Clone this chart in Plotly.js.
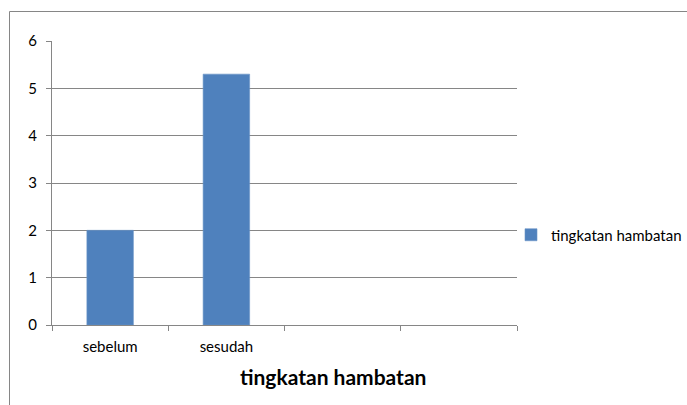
<!DOCTYPE html>
<html>
<head>
<meta charset="utf-8">
<script src="https://cdn.plot.ly/plotly-2.35.2.min.js"></script>
<style>html,body{margin:0;padding:0;background:#fff}#chart{width:687px;height:405px}</style>
</head>
<body>
<div id="chart"></div>
<script>
const categories = ['sebelum', 'sesudah', ' ', '  '];
const values = [2, 5.3, null, null];
const seriesName = 'tingkatan hambatan';
const axisTitle = 'tingkatan hambatan';
const yTicks = [0, 1, 2, 3, 4, 5, 6];

const W = 687, H = 405, L = 52, R = 170, T = 41, B = 80;
const pw = W - L - R, ph = H - T - B;
const px = x => (x - L) / pw;
const py = y => (H - B - y) / ph;

const FONT = 'Lato, "Open Sans", sans-serif';

Plotly.newPlot('chart', [{
  type: 'bar',
  x: categories,
  y: values,
  name: seriesName,
  marker: {color: '#4F81BD', line: {color: '#6A93C8', width: 0.6}},
  showlegend: true
}], {
  width: W, height: H,
  margin: {l: L, r: R, t: T, b: B, pad: 0, autoexpand: false},
  paper_bgcolor: '#fff', plot_bgcolor: '#fff',
  bargap: 0.6,
  font: {family: FONT, size: 15, color: '#000'},
  xaxis: {
    type: 'category',
    range: [-0.5, 3.5],
    showgrid: false,
    showline: true, linecolor: '#868686', linewidth: 1,
    ticks: 'outside', ticklen: 5, tickcolor: '#868686', tickson: 'boundaries',
    ticklabelstandoff: 8,
    tickfont: {family: FONT, size: 15, color: '#000'},
    automargin: false,
    fixedrange: true
  },
  yaxis: {
    range: [0, 6],
    tickvals: yTicks,
    showgrid: true, gridcolor: '#868686', gridwidth: 1,
    showline: true, linecolor: '#868686', linewidth: 1,
    ticks: 'outside', ticklen: 5, tickcolor: '#868686',
    ticklabelstandoff: 6,
    zeroline: false,
    tickfont: {family: FONT, size: 15, color: '#000'},
    automargin: false,
    fixedrange: true
  },
  legend: {
    x: px(511), y: py(235), xanchor: 'left', yanchor: 'middle',
    font: {family: FONT, size: 15, color: '#000'},
    bgcolor: 'rgba(0,0,0,0)'
  },
  annotations: [{
    text: '<b>' + axisTitle + '</b>',
    xref: 'paper', yref: 'paper',
    x: px(333), y: py(376), xanchor: 'center', yanchor: 'middle',
    showarrow: false,
    font: {family: FONT, size: 21, color: '#000'}
  }],
  shapes: [
    {type: 'line', xref: 'paper', yref: 'paper', x0: px(9.5), x1: px(9.5), y0: py(406), y1: py(11.5), line: {color: '#868686', width: 1}},
    {type: 'line', xref: 'paper', yref: 'paper', x0: px(9.5), x1: px(688), y0: py(11.5), y1: py(11.5), line: {color: '#868686', width: 1}}
  ]
}, {displayModeBar: false, staticPlot: true});
</script>
</body>
</html>
